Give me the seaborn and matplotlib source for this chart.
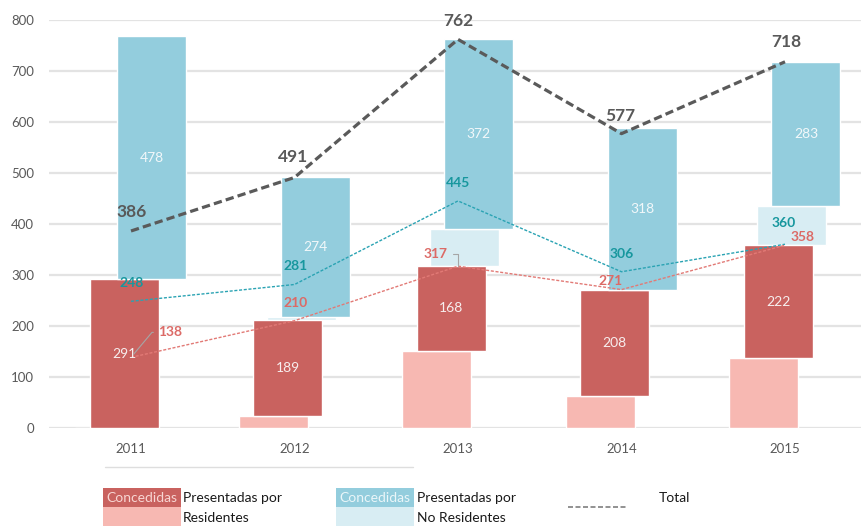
import numpy as np
import pandas as pd
import matplotlib
matplotlib.use("Agg")
import matplotlib.pyplot as plt
from matplotlib.patches import Rectangle
from matplotlib.lines import Line2D
import seaborn as sns

# ---- data -------------------------------------------------------------
years = ["2011", "2012", "2013", "2014", "2015"]
presentadas_res = [0, 22, 150, 63, 136]        # pink base bars
concedidas_res = [291, 189, 168, 208, 222]     # red bars
presentadas_nores = [0, 6, 72, 0, 77]          # light blue bars
concedidas_nores = [478, 274, 372, 318, 283]   # blue bars
total = [386, 491, 762, 577, 718]
linea_nores = [248, 281, 445, 306, 360]
linea_res = [138, 210, 317, 271, 358]
yticks = [0, 100, 200, 300, 400, 500, 600, 700, 800]

# ---- style ------------------------------------------------------------
sns.set_theme(style="white")
plt.rcParams["font.family"] = ["Lato", "DejaVu Sans"]

C_RED = "#c9625f"
C_PINK = "#f7b8b2"
C_BLUE = "#93cddd"
C_LBLUE = "#d8edf3"
C_GRID = "#e3e3e3"
C_TXT = "#595959"
C_TEAL_TXT = "#17979e"
C_TEAL_LN = "#2aa3b3"
C_RED_TXT = "#dc6a66"
C_RED_LN = "#e27a76"

fig = plt.figure(figsize=(8.62, 5.26), dpi=100)
W, H = 862, 526
ax_l, ax_r = 49.25, 862
ax_top, ax_bot = 20, 427.7
ax = fig.add_axes([ax_l / W, 1 - ax_bot / H, (ax_r - ax_l) / W, (ax_bot - ax_top) / H])

x = np.arange(len(years))
bw = 0.422
p = np.array(presentadas_res, float)
r = np.array(concedidas_res, float)
lb = np.array(presentadas_nores, float)
b = np.array(concedidas_nores, float)

# stacked floating bars, each layer shifted a little to the right
ax.bar(x - 0.130, p, width=bw, bottom=0, color=C_PINK, zorder=2)
ax.bar(x - 0.042, r, width=bw, bottom=p, color=C_RED, zorder=3)
ax.bar(x + 0.040, lb, width=bw, bottom=p + r, color=C_LBLUE, zorder=2)
ax.bar(x + 0.128, b, width=bw, bottom=p + r + lb, color=C_BLUE, zorder=3)

for i in range(len(years)):
    ax.text(x[i] - 0.042, p[i] + r[i] / 2, f"{int(r[i])}", ha="center", va="center",
            color="#f7eeee", fontsize=10, zorder=6)
    ax.text(x[i] + 0.128, p[i] + r[i] + lb[i] + b[i] / 2, f"{int(b[i])}", ha="center",
            va="center", color="#f2f8fa", fontsize=10, zorder=6)

# lines
df = pd.DataFrame({"x": x, "total": total, "nores": linea_nores, "res": linea_res})
sns.lineplot(data=df, x="x", y="total", ax=ax, color="#5a5a5a", lw=2.3,
             linestyle=(0, (2.6, 1.3)), zorder=5)
sns.lineplot(data=df, x="x", y="nores", ax=ax, color=C_TEAL_LN, lw=1.0,
             linestyle=(0, (2.2, 1.2)), zorder=5)
sns.lineplot(data=df, x="x", y="res", ax=ax, color=C_RED_LN, lw=1.0,
             linestyle=(0, (2.2, 1.2)), zorder=5)

# value labels for the lines (offsets in pixels)
tot_off = [(1, 19), (-1, 20), (0, 18), (-1, 18), (1, 20)]
for i, v in enumerate(total):
    ax.annotate(f"{v}", (x[i], v), xytext=tot_off[i], textcoords="offset pixels",
                ha="center", va="center", fontsize=12.5, fontweight="bold",
                color=C_TXT, zorder=7)
nores_off = [(1, 18), (1, 18), (0, 18), (0, 18), (-1, 21)]
for i, v in enumerate(linea_nores):
    ax.annotate(f"{v}", (x[i], v), xytext=nores_off[i], textcoords="offset pixels",
                ha="center", va="center", fontsize=10, fontweight="bold",
                color=C_TEAL_TXT, zorder=7)
res_off = [(39, 25), (1, 18), (-22, 12), (-11, 9), (18, 8)]
for i, v in enumerate(linea_res):
    kw = {}
    if i == 0:
        kw["arrowprops"] = dict(arrowstyle="-", color="#a6a6a6", lw=0.8, shrinkA=1,
                                shrinkB=3, relpos=(0, 0.5),
                                connectionstyle="angle,angleA=180,angleB=50,rad=0")
    elif i == 2:
        kw["arrowprops"] = dict(arrowstyle="-", color="#a6a6a6", lw=0.8, shrinkA=1,
                                shrinkB=0, relpos=(1, 0.5),
                                connectionstyle="angle,angleA=0,angleB=90,rad=0")
    ax.annotate(f"{v}", (x[i], v), xytext=res_off[i], textcoords="offset pixels",
                ha="center", va="center", fontsize=10, fontweight="bold",
                color=C_RED_TXT, zorder=7, **kw)

# axes cosmetics
ax.set_xlim(-0.5, (ax_r - 131) / 163.5)
ax.set_ylim(0, 800)
ax.set_yticks(yticks)
ax.set_xticks(x)
ax.set_xticklabels(years)
ax.grid(axis="y", color=C_GRID, lw=1.6, zorder=0)
ax.grid(axis="x", visible=False)
ax.set_axisbelow(True)
for s in ax.spines.values():
    s.set_visible(False)
ax.tick_params(axis="y", length=0, pad=11, labelsize=9.5, labelcolor=C_TXT)
ax.tick_params(axis="x", length=0, pad=11, labelsize=9.5, labelcolor=C_TXT)
ax.set_xlabel("")
ax.set_ylabel("")


# ---- legend, drawn in figure pixel coordinates ------------------------
def fx(px):
    return px / W


def fy(py):
    return 1 - py / H


fig.add_artist(Line2D([fx(105), fx(413)], [fy(467), fy(467)], color="#dedede", lw=1))

for x0, top, low, lab_col in [(103, C_RED, C_PINK, "#f8d6d3"), (336, C_BLUE, C_LBLUE, "#eaf6f9")]:
    fig.add_artist(Rectangle((fx(x0), fy(507)), fx(78), 19 / H, color=top, lw=0))
    fig.add_artist(Rectangle((fx(x0), fy(527)), fx(78), 20 / H, color=low, lw=0))
    fig.text(fx(x0 + 39), fy(498), "Concedidas", ha="center", va="center",
             fontsize=10, color=lab_col)

fig.text(fx(183), fy(498), "Presentadas por", ha="left", va="center", fontsize=10, color="#1a1a1a")
fig.text(fx(183), fy(518), "Residentes", ha="left", va="center", fontsize=10, color="#1a1a1a")
fig.text(fx(417), fy(498), "Presentadas por", ha="left", va="center", fontsize=10, color="#1a1a1a")
fig.text(fx(417), fy(518), "No Residentes", ha="left", va="center", fontsize=10, color="#1a1a1a")
fig.add_artist(Line2D([fx(568), fx(627)], [fy(507), fy(507)], color="#7f7f7f", lw=1.2,
                      linestyle=(0, (3, 1.5))))
fig.text(fx(659), fy(498), "Total", ha="left", va="center", fontsize=10, color="#1a1a1a")

fig.savefig("out.png", dpi=100)
